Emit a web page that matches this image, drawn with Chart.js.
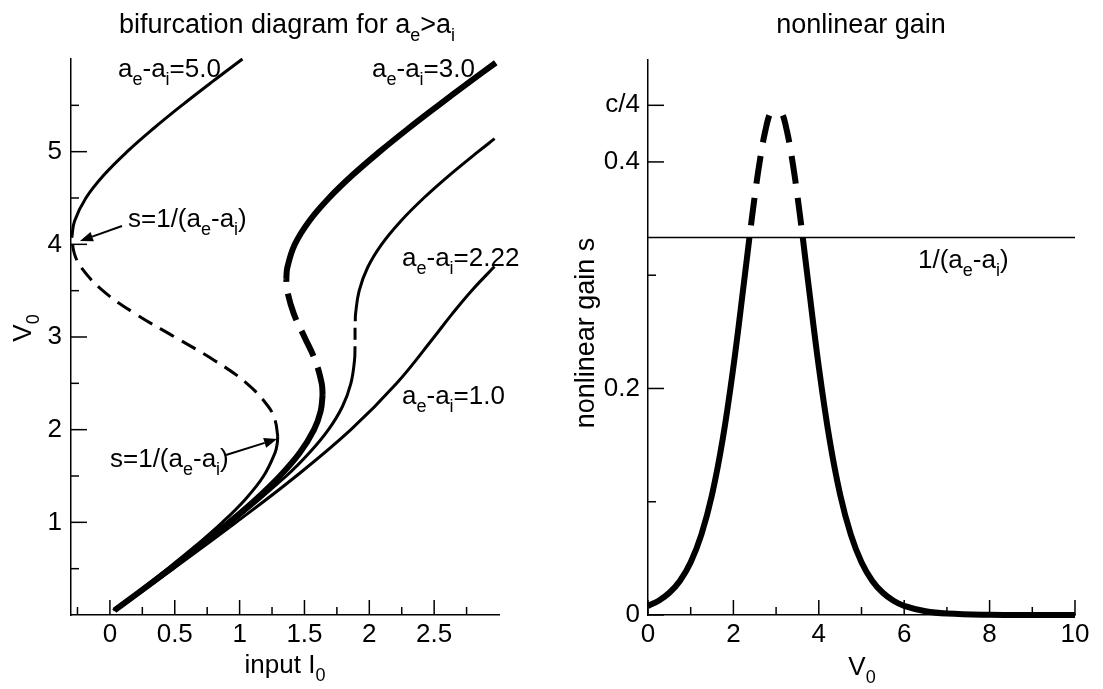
<!DOCTYPE html>
<html>
<head>
<meta charset="utf-8">
<script src="https://cdn.jsdelivr.net/npm/chart.js@4.4.1/dist/chart.umd.min.js"></script>
<style>
  html, body { margin: 0; padding: 0; background: #fff; }
  #wrap { position: relative; width: 1103px; height: 689px; }
  canvas { position: absolute; top: 0; }
  #left { left: 0; }
  #right { left: 551px; }
</style>
</head>
<body>
<div id="wrap">
  <canvas id="left" width="551" height="689"></canvas>
  <canvas id="right" width="552" height="689"></canvas>
</div>
<script>
// left panel: each branch is V0 samples and the input I0 read at them
// a_e-a_i = 5.0
const w5LowV  = [0.05, 0.25, 0.5, 0.75, 1.0, 1.25, 1.5, 1.75, 1.85, 1.93]
const w5LowI  = [0.025, 0.215, 0.445, 0.664, 0.867, 1.045, 1.185, 1.273, 1.290, 1.294]
const w5MidV  = [1.93, 2.1, 2.25, 2.5, 2.75, 3.0, 3.25, 3.5, 3.75, 3.9, 4.07]
const w5MidI  = [1.294, 1.274, 1.221, 1.055, 0.803, 0.500, 0.197, -0.055, -0.221, -0.274, -0.294]
const w5HighV = [4.07, 4.25, 4.5, 4.75, 5.0, 5.25, 5.5, 5.75, 6.0]
const w5HighI = [-0.294, -0.273, -0.185, -0.045, 0.133, 0.336, 0.555, 0.785, 1.022]

// a_e-a_i = 3.0
const w3LowV  = [0.05, 0.25, 0.5, 0.75, 1.0, 1.25, 1.5, 1.75, 2.0, 2.2, 2.375]
const w3LowI  = [0.035, 0.229, 0.467, 0.699, 0.920, 1.127, 1.311, 1.464, 1.574, 1.625, 1.640]
const w3MidV  = [2.375, 2.5, 2.75, 3.0, 3.25, 3.5, 3.625]
const w3MidI  = [1.640, 1.633, 1.582, 1.500, 1.418, 1.367, 1.360]
const w3HighV = [3.625, 3.75, 4.0, 4.25, 4.5, 4.75, 5.0, 5.25, 5.5, 5.75, 5.96]
const w3HighI = [1.360, 1.368, 1.426, 1.536, 1.689, 1.873, 2.080, 2.301, 2.533, 2.771, 2.975]

// a_e-a_i = 2.22
const w2LowV  = [0.05, 0.5, 1.0, 1.5, 1.75, 2.0, 2.25, 2.5, 2.75, 2.9]
const w2LowI  = [0.039, 0.476, 0.941, 1.360, 1.538, 1.685, 1.793, 1.858, 1.886, 1.890]
const w2MidV  = [2.97, 3.03, 3.1]
const w2MidI  = [1.890, 1.890, 1.890]
const w2HighV = [3.17, 3.25, 3.5, 3.75, 4.0, 4.25, 4.5, 4.75, 5.0, 5.14]
const w2HighI = [1.892, 1.894, 1.922, 1.987, 2.095, 2.242, 2.420, 2.621, 2.839, 2.966]

// a_e-a_i = 1.0
const w1V = [0.05, 0.5, 1.0, 1.5, 2.0, 2.5, 3.0, 3.25, 3.5, 3.76]
const w1I = [0.045, 0.489, 0.973, 1.437, 1.858, 2.211, 2.500, 2.639, 2.789, 2.965]

// right panel: nonlinear gain s against V0
const gainLowV   = [0, 0.25, 0.5, 0.75, 1.0, 1.25, 1.5, 1.75, 2.0, 2.25, 2.375]
const gainLowS   = [0.008, 0.0126, 0.0196, 0.0303, 0.0466, 0.0709, 0.1062, 0.1553, 0.2191, 0.2943, 0.3331]
// dashed top, each half listed from the peak outwards
const gainUpV    = [3.0, 2.875, 2.75, 2.625, 2.5, 2.375]
const gainUpS    = [0.45, 0.4444, 0.4280, 0.4024, 0.3699, 0.3331]
const gainDownV  = [3.0, 3.125, 3.25, 3.375, 3.5, 3.625]
const gainDownS  = [0.45, 0.4444, 0.4280, 0.4024, 0.3699, 0.3331]
const gainHighV  = [3.625, 3.75, 4.0, 4.25, 4.5, 4.75, 5.0, 5.25, 5.5, 5.75, 6.0, 6.5, 7.0, 8.0, 9.0, 10.0]
const gainHighS  = [0.3331, 0.2943, 0.2191, 0.1553, 0.1062, 0.0709, 0.0466, 0.0303, 0.0196, 0.0126, 0.0081, 0.0033, 0.0013, 0.0002, 0, 0]
const thresholdV = [0, 10]
const thresholdS = [0.3333, 0.3333]

// ticks
const leftXMajor = [0, 0.5, 1, 1.5, 2, 2.5]
const leftXMinor = [-0.25, 0.25, 0.75, 1.25, 1.75, 2.25, 2.75]
const leftYMajor = [1, 2, 3, 4, 5]
const leftYMinor = [0.5, 1.5, 2.5, 3.5, 4.5, 5.5]
const rightXMajor = [0, 2, 4, 6, 8, 10]
const rightXMinor = [1, 3, 5, 7, 9]
const rightYMajor = [0, 0.2, 0.4, 0.45]
const rightYMinor = [0.1, 0.3]

const FONT = '"Liberation Sans", Arial, Helvetica, sans-serif'

function parseRich(str) {
  const parts = []
  const re = /_\{([^}]*)\}/g
  let last = 0, m
  while ((m = re.exec(str))) {
    if (m.index > last) parts.push([str.slice(last, m.index), false])
    parts.push([m[1], true])
    last = re.lastIndex
  }
  if (last < str.length) parts.push([str.slice(last), false])
  return parts
}

function drawRich(ctx, t) {
  const size = t.size || 26
  const sub = Math.round(size * 0.68)
  const parts = parseRich(t.text)
  const font = p => (p[1] ? sub : size) + 'px ' + FONT
  let total = 0
  parts.forEach(p => { ctx.font = font(p); total += ctx.measureText(p[0]).width })
  ctx.save()
  ctx.translate(t.x, t.y)
  if (t.rot) ctx.rotate(t.rot)
  let cx = t.align === 'center' ? -total / 2 : t.align === 'right' ? -total : 0
  ctx.textAlign = 'left'
  ctx.textBaseline = 'alphabetic'
  ctx.fillStyle = '#000'
  parts.forEach(p => {
    ctx.font = font(p)
    ctx.fillText(p[0], cx, p[1] ? size * 0.3 : 0)
    cx += ctx.measureText(p[0]).width
  })
  ctx.restore()
}

function drawArrow(ctx, x1, y1, x2, y2) {
  const ang = Math.atan2(y2 - y1, x2 - x1)
  const head = 13, half = 5
  const bx = x2 - head * Math.cos(ang), by = y2 - head * Math.sin(ang)
  ctx.save()
  ctx.strokeStyle = '#000'
  ctx.fillStyle = '#000'
  ctx.lineWidth = 2
  ctx.beginPath()
  ctx.moveTo(x1, y1)
  ctx.lineTo(bx, by)
  ctx.stroke()
  ctx.beginPath()
  ctx.moveTo(x2, y2)
  ctx.lineTo(bx + half * Math.sin(ang), by - half * Math.cos(ang))
  ctx.lineTo(bx - half * Math.sin(ang), by + half * Math.cos(ang))
  ctx.closePath()
  ctx.fill()
  ctx.restore()
}

// inward tick marks, texts and arrows drawn on top of the library's scales
const decor = {
  id: 'decor',
  afterDatasetsDraw(chart, args, o) {
    const ctx = chart.ctx, a = chart.chartArea
    const xs = chart.scales.x, ys = chart.scales.y
    ctx.save()
    ctx.strokeStyle = '#000'
    ctx.lineWidth = 1.5
    const tick = (scale, vals, len) => vals.forEach(v => {
      const p = scale.getPixelForValue(v)
      ctx.beginPath()
      if (scale.isHorizontal()) { ctx.moveTo(p, a.bottom); ctx.lineTo(p, a.bottom - len) }
      else { ctx.moveTo(a.left, p); ctx.lineTo(a.left + len, p) }
      ctx.stroke()
    })
    tick(xs, o.xMajor, 15)
    tick(xs, o.xMinor, 8)
    tick(ys, o.yMajor, 16)
    tick(ys, o.yMinor, 8)
    ctx.restore()
    ;(o.arrows || []).forEach(r => drawArrow(ctx,
      xs.getPixelForValue(r[0]), ys.getPixelForValue(r[1]),
      xs.getPixelForValue(r[2]), ys.getPixelForValue(r[3])))
    ;(o.texts || []).forEach(t => drawRich(ctx, t))
  }
}

function line(xs, ys, width, dash, offset) {
  return {
    data: xs.map((x, k) => ({ x: x, y: ys[k] })),
    borderColor: '#000',
    borderWidth: width,
    borderDash: dash || [],
    borderDashOffset: offset || 0,
    borderCapStyle: 'butt',
    pointRadius: 0,
    tension: 0.4,
    fill: false,
    clip: false
  }
}

function axis(min, max, ticks, pad, fmt, afterFit) {
  return {
    type: 'linear',
    min: min,
    max: max,
    afterBuildTicks: s => { s.ticks = ticks.map(v => ({ value: v })) },
    afterFit: afterFit,
    grid: { display: false, drawTicks: false },
    border: { display: true, color: '#000', width: 1.5 },
    ticks: {
      color: '#000',
      padding: pad,
      autoSkip: false,
      maxRotation: 0,
      font: { family: 'Liberation Sans', size: 26 },
      callback: fmt
    }
  }
}

Chart.defaults.animation = false

new Chart(document.getElementById('left'), {
  type: 'line',
  data: {
    datasets: [
      line(w1I, w1V, 3),
      line(w2LowI, w2LowV, 3),
      line(w2MidI, w2MidV, 3),
      line(w2HighI, w2HighV, 3),
      line(w5LowI, w5LowV, 3),
      line(w5MidI, w5MidV, 3, [16, 9]),
      line(w5HighI, w5HighV, 3),
      line(w3LowI, w3LowV, 6),
      line(w3MidI, w3MidV, 6, [28, 12]),
      line(w3HighI, w3HighV, 6)
    ]
  },
  options: {
    responsive: false,
    layout: { padding: { left: 0, right: 52, top: 59, bottom: 0 } },
    plugins: {
      legend: { display: false },
      tooltip: { enabled: false },
      decor: {
        xMajor: leftXMajor, xMinor: leftXMinor,
        yMajor: leftYMajor, yMinor: leftYMinor,
        arrows: [[0.093, 4.198, -0.231, 4.036], [0.895, 1.727, 1.289, 1.899]],
        texts: [
          { text: 'bifurcation diagram for a_{e}>a_{i}', x: 287, y: 33, align: 'center', size: 27 },
          { text: 'a_{e}-a_{i}=5.0', x: 118, y: 77 },
          { text: 'a_{e}-a_{i}=3.0', x: 372, y: 77 },
          { text: 'a_{e}-a_{i}=2.22', x: 402, y: 266 },
          { text: 'a_{e}-a_{i}=1.0', x: 402, y: 404 },
          { text: 's=1/(a_{e}-a_{i})', x: 128, y: 227 },
          { text: 's=1/(a_{e}-a_{i})', x: 110, y: 467 },
          { text: 'input I_{0}', x: 285, y: 673, align: 'center' },
          { text: 'V_{0}', x: 31, y: 328, align: 'center', rot: -Math.PI / 2 }
        ]
      }
    },
    scales: {
      x: axis(-0.3, 3.0, leftXMajor, 4, v => String(v), s => { s.height = 74 }),
      y: axis(0, 6, leftYMajor, 9, v => String(v), s => { s.width = 71 })
    }
  },
  plugins: [decor]
})

new Chart(document.getElementById('right'), {
  type: 'line',
  data: {
    datasets: [
      line(thresholdV, thresholdS, 1.5),
      line(gainLowV, gainLowS, 6),
      line(gainUpV, gainUpS, 6, [28, 14], 30),
      line(gainDownV, gainDownS, 6, [28, 14], 30),
      line(gainHighV, gainHighS, 6)
    ]
  },
  options: {
    responsive: false,
    layout: { padding: { left: 0, right: 28, top: 60, bottom: 0 } },
    plugins: {
      legend: { display: false },
      tooltip: { enabled: false },
      decor: {
        xMajor: rightXMajor, xMinor: rightXMinor,
        yMajor: rightYMajor, yMinor: rightYMinor,
        texts: [
          { text: 'nonlinear gain', x: 310, y: 33, align: 'center', size: 27 },
          { text: '1/(a_{e}-a_{i})', x: 367, y: 268 },
          { text: 'V_{0}', x: 311, y: 675, align: 'center' },
          { text: 'nonlinear gain s', x: 43, y: 333, align: 'center', rot: -Math.PI / 2, size: 27 }
        ]
      }
    },
    scales: {
      x: axis(0, 10, rightXMajor, 4, v => String(v), s => { s.height = 74 }),
      y: axis(0, 0.49, rightYMajor, 8, v => (v === 0.45 ? 'c/4' : String(v)), s => { s.width = 97 })
    }
  },
  plugins: [decor]
})
</script>
</body>
</html>
